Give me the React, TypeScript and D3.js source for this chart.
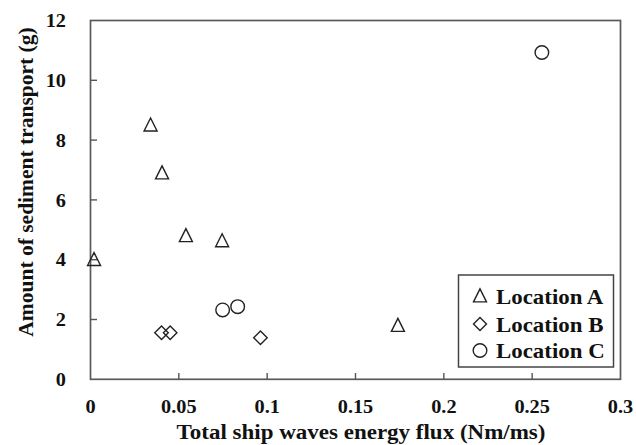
import React, { useRef, useEffect } from "react";
import * as d3 from "d3";

// values
const locAx = [0.002, 0.034, 0.0405, 0.054, 0.0745, 0.174];
const locAy = [4.0, 8.5, 6.9, 4.8, 4.63, 1.8];
const locBx = [0.0402, 0.0451, 0.0962];
const locBy = [1.56, 1.56, 1.39];
const locCx = [0.0748, 0.0833, 0.2555];
const locCy = [2.32, 2.43, 10.93];

const xTicks = [0, 0.05, 0.1, 0.15, 0.2, 0.25, 0.3];
const yTicks = [0, 2, 4, 6, 8, 10, 12];
const legendNames = ["Location A", "Location B", "Location C"];

const W = 636;
const H = 445;
const font = "'Liberation Serif', serif";

const App = () => {
  const ref = useRef<SVGSVGElement>(null);

  useEffect(() => {
    const svg = d3.select(ref.current);
    svg.selectAll("*").remove();

    const x = d3.scaleLinear().domain([0, 0.3]).range([90.5, 620.5]);
    const y = d3.scaleLinear().domain([0, 12]).range([379.3, 20.5]);

    // frame
    svg.append("rect")
      .attr("x", 90.5).attr("y", 20.5)
      .attr("width", 620.5 - 90.5).attr("height", 379.3 - 20.5)
      .attr("fill", "none").attr("stroke", "#5a5a5a").attr("stroke-width", 1.7);

    // ticks, pointing inward
    const g = svg.append("g")
      .style("font-family", font).style("font-weight", "bold").attr("fill", "#111");
    g.selectAll(".xt").data(xTicks.slice(1, -1)).enter().append("line")
      .attr("x1", d => x(d)).attr("x2", d => x(d))
      .attr("y1", 379.3).attr("y2", 373)
      .attr("stroke", "#555").attr("stroke-width", 1.4);
    g.selectAll(".yt").data(yTicks.slice(1, -1)).enter().append("line")
      .attr("x1", 90.5).attr("x2", 97)
      .attr("y1", d => y(d)).attr("y2", d => y(d))
      .attr("stroke", "#555").attr("stroke-width", 1.4);

    // tick labels (source image is slightly stretched horizontally)
    g.selectAll(".xl").data(xTicks).enter().append("text")
      .attr("transform", d => `translate(${x(d)},413) scale(1.07,1)`)
      .attr("text-anchor", "middle")
      .style("font-size", "19px")
      .text(d => String(d));
    g.selectAll(".yl").data(yTicks).enter().append("text")
      .attr("transform", d => `translate(66,${y(d)}) scale(1.07,1)`)
      .attr("dy", "0.35em")
      .attr("text-anchor", "end")
      .style("font-size", "19px")
      .text(d => String(d));

    // axis titles
    g.append("text")
      .attr("transform", "translate(361,439) scale(1.07,1)")
      .attr("text-anchor", "middle")
      .style("font-size", "21.5px")
      .text("Total ship waves energy flux (Nm/ms)");
    g.append("text")
      .attr("transform", "translate(33,182) rotate(-90)")
      .attr("text-anchor", "middle")
      .style("font-size", "21.5px")
      .text("Amount of sediment transport (g)");

    const tri = (s: number) => `M0,${-s * 0.55}L${s * 0.5},${s * 0.45}L${-s * 0.5},${s * 0.45}Z`;
    const dia = (s: number) => `M0,${-s / 2}L${s / 2},0L0,${s / 2}L${-s / 2},0Z`;
    const stroke = "#222";

    const ptsA = locAx.map((v, i) => [v, locAy[i]]);
    const ptsB = locBx.map((v, i) => [v, locBy[i]]);
    const ptsC = locCx.map((v, i) => [v, locCy[i]]);

    svg.append("g").selectAll("path").data(ptsA).enter().append("path")
      .attr("d", tri(13))
      .attr("transform", d => `translate(${x(d[0])},${y(d[1])})`)
      .attr("fill", "none").attr("stroke", stroke).attr("stroke-width", 1.4);
    svg.append("g").selectAll("path").data(ptsB).enter().append("path")
      .attr("d", dia(13.5))
      .attr("transform", d => `translate(${x(d[0])},${y(d[1])})`)
      .attr("fill", "none").attr("stroke", stroke).attr("stroke-width", 1.4);
    svg.append("g").selectAll("circle").data(ptsC).enter().append("circle")
      .attr("cx", d => x(d[0])).attr("cy", d => y(d[1])).attr("r", 6.8)
      .attr("fill", "none").attr("stroke", stroke).attr("stroke-width", 1.4);

    // legend
    const lg = svg.append("g")
      .style("font-family", font).style("font-weight", "bold").attr("fill", "#111");
    lg.append("rect")
      .attr("x", 458.5).attr("y", 275)
      .attr("width", 155).attr("height", 92)
      .attr("fill", "white").attr("stroke", "#444").attr("stroke-width", 1.5);
    const ly = [296, 324, 350.5];
    const shapes = [tri(13), dia(13), null];
    legendNames.forEach((name, i) => {
      if (shapes[i]) {
        lg.append("path").attr("d", shapes[i] as string)
          .attr("transform", `translate(480,${ly[i]})`)
          .attr("fill", "none").attr("stroke", stroke).attr("stroke-width", 1.4);
      } else {
        lg.append("circle").attr("cx", 480).attr("cy", ly[i]).attr("r", 6.8)
          .attr("fill", "none").attr("stroke", stroke).attr("stroke-width", 1.4);
      }
      lg.append("text")
        .attr("transform", `translate(496,${ly[i]}) scale(1.04,1)`)
        .attr("dy", "0.35em")
        .style("font-size", "22px")
        .text(name);
    });
  }, []);

  return (
    <svg
      ref={ref}
      width={W}
      height={H}
      style={{ position: "absolute", left: 0, top: 0, background: "white" }}
    />
  );
};

export default App;
